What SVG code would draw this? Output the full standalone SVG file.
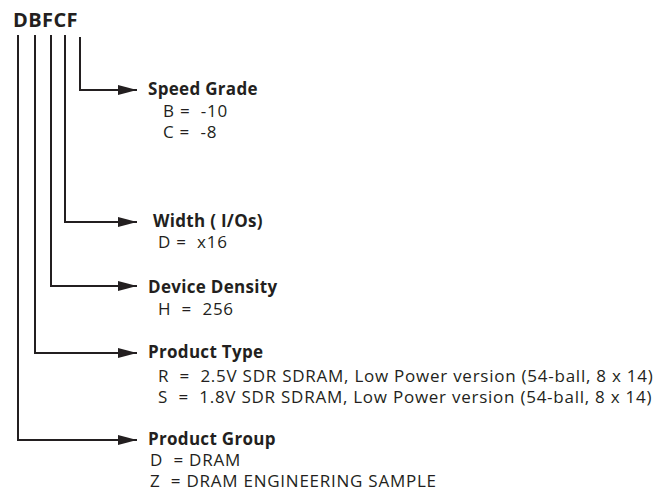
<svg xmlns="http://www.w3.org/2000/svg" width="659" height="491" viewBox="0 0 659 491">
<style>
text{font-family:"Open Sans","Noto Sans","Liberation Sans",sans-serif;fill:#231f20;white-space:pre}
.t{font-size:20px;font-weight:bold;letter-spacing:0.4px}
.h{font-size:17px;font-weight:bold;letter-spacing:0.3px}
.v{font-size:17px;letter-spacing:0.75px}
.ln{fill:none;stroke:#231f20;stroke-width:2}
</style>
<defs>
<marker id="ah" markerWidth="20" markerHeight="10" refX="19" refY="5" orient="auto" markerUnits="userSpaceOnUse">
<path d="M0,0 L19,5 L0,10 Z" fill="#231f20"/>
</marker>
</defs>
<g id="code"><text class="t" x="13" y="27" xml:space="preserve">DBFCF</text></g>
<g id="connectors">
<path class="ln" d="M80,37 V90 H137" marker-end="url(#ah)"/>
<path class="ln" d="M65,35 V222 H137" marker-end="url(#ah)"/>
<path class="ln" d="M51,35 V286 H137" marker-end="url(#ah)"/>
<path class="ln" d="M35,35 V353 H137" marker-end="url(#ah)"/>
<path class="ln" d="M18,35 V440 H137" marker-end="url(#ah)"/>
</g>
<g id="speed-grade">
<text class="h" x="148" y="95">Speed Grade</text>
<text class="v" x="163" y="117" xml:space="preserve">B =  -10</text>
<text class="v" x="163" y="138" xml:space="preserve">C =  -8</text>
</g>
<g id="width">
<text class="h" x="153" y="227">Width ( I/Os)</text>
<text class="v" x="158" y="248" xml:space="preserve">D =  x16</text>
</g>
<g id="device-density">
<text class="h" x="148" y="293">Device Density</text>
<text class="v" x="158" y="315" xml:space="preserve">H  =  256</text>
</g>
<g id="product-type">
<text class="h" x="148" y="358">Product Type</text>
<text class="v" x="158" y="382" xml:space="preserve">R  =  2.5V SDR SDRAM, Low Power version (54-ball, 8 x 14)</text>
<text class="v" x="158" y="403" xml:space="preserve">S  =  1.8V SDR SDRAM, Low Power version (54-ball, 8 x 14)</text>
</g>
<g id="product-group">
<text class="h" x="148" y="445">Product Group</text>
<text class="v" x="150" y="466" xml:space="preserve">D  = DRAM</text>
<text class="v" x="150" y="487" xml:space="preserve">Z  = DRAM ENGINEERING SAMPLE</text>
</g>
</svg>
